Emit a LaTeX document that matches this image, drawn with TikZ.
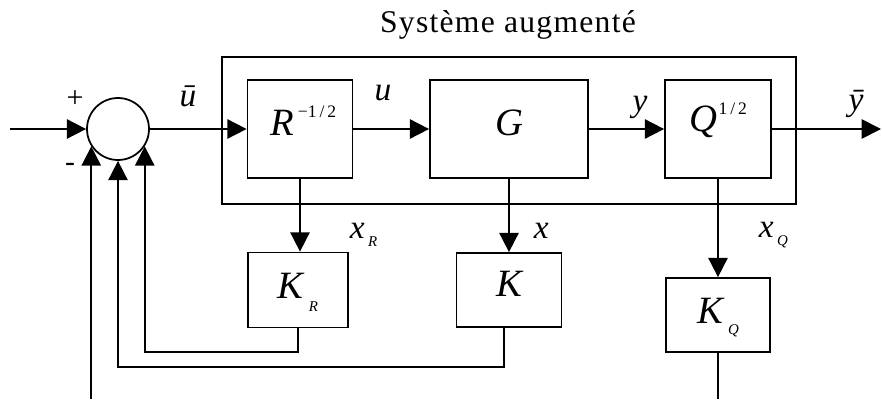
\documentclass[tikz,border=0pt]{standalone}
\usepackage{fontspec}
\setmainfont{Liberation Serif}
\newfontfamily\titlefont[LetterSpace=4]{Liberation Serif}
\usetikzlibrary{positioning}
\usetikzlibrary{calc}
\usetikzlibrary{arrows.meta}

\newcommand{\blkfont}{\fontsize{22}{22}\selectfont\itshape}
\newcommand{\lblfont}{\fontsize{19}{19}\selectfont\itshape}
% small raised / lowered indices
\newcommand{\sps}[2][10pt]{\raisebox{#1}{\fontsize{10}{10}\selectfont\upshape #2}}
\newcommand{\sbs}[2][-5pt]{\hspace{2pt}\raisebox{#1}{\fontsize{8.5}{8.5}\selectfont\itshape #2}}

\tikzset{
  block/.style={draw, line width=1pt, inner sep=0pt, text height=10pt, text depth=3pt, font=\blkfont},
  arr/.style={-{Triangle[length=11pt,width=11pt]}},
  lbl/.style={inner sep=0pt, font=\lblfont}
}

\begin{document}
\begin{tikzpicture}[x=0.02cm, y=-0.02cm, line width=1pt]
    \useasboundingbox (0,0) rectangle (882,399);

    % augmented system
    \node[draw, minimum width=11.48cm, minimum height=2.94cm] (sys) at (509,130.5) {};
    \node[font=\fontsize{18}{18}\titlefont] (title) at (508,25) {Système augmenté};

    \node[circle, draw, minimum size=1.24cm, inner sep=0pt] (sum) at (118,129) {};
    \node[block, minimum width=2.1cm, minimum height=1.96cm] (R) at (300,129) {\hspace*{4pt}R\hspace{2pt}\sps{−1\,/\,2}};
    \node[block, minimum width=3.16cm, minimum height=1.96cm] (G) at (509,129) {G\hspace{19pt}};
    \node[block, minimum width=2.12cm, minimum height=1.96cm, text depth=7pt] (Q) at (718,129) {Q\hspace{1pt}\sps[9.5pt]{1\,/\,2}};

    \node[block, minimum width=2.0cm, minimum height=1.5cm, text depth=0pt] (KR) at (298,290) {K\hspace{1pt}\sbs[-7pt]{R}};
    \node[block, minimum width=2.1cm, minimum height=1.48cm] (K) at (509,290) {K\hspace{13pt}};
    \node[block, minimum width=2.08cm, minimum height=1.48cm, text depth=0pt] (KQ) at (718,315) {K\hspace{1pt}\sbs[-6pt]{Q}};

    \coordinate (in) at (10,129);
    \coordinate (out) at (881,129);
    \coordinate (lowR) at (0,352);
    \coordinate (lowK) at (0,367);
    \coordinate (bot) at (0,399);

    \draw[arr] (in) -- (sum.west);
    \draw[arr] (sum.east) -- (R.west);
    \draw[arr] (R.east) -- (G.west);
    \draw[arr] (G.east) -- (Q.west);
    \draw[arr] (Q.east) -- (out);

    \draw[arr] (R.south) -- (R.south |- KR.north);
    \draw[arr] (G.south) -- (G.south |- K.north);
    \draw[arr] (Q.south) -- (Q.south |- KQ.north);

    % feedback
    \draw[arr] (KR.south) -- (KR.south |- lowR) -| (sum.-33);
    \draw[arr] ([xshift=-0.1cm]K.south) -- ([xshift=-0.1cm]K.south |- lowK) -| (sum.south);
    \draw (KQ.south) -- (KQ.south |- bot);
    \draw[arr] (sum.-147 |- bot) -- (sum.-147);

    % signal names
    \node[lbl] (ubar) at (188,96) {\=u};
    \node[lbl] (ulbl) at (383,93) {u};
    \node[lbl] (ylbl) at (640,107) {y};
    \node[lbl] (ybar) at (856,104) {\=y};
    \node[lbl, anchor=base west] (xR) at (349,238) {x\sbs{R}};
    \node[lbl, anchor=base west] (xK) at (533,238) {x};
    \node[lbl, anchor=base west] (xQ) at (758,237) {x\sbs{Q}};
    \node[font=\fontsize{17}{17}\selectfont] (plus) at (75,99) {+};
    \node[font=\fontsize{17}{17}\selectfont] (minus) at (70,167) {-};
\end{tikzpicture}
\end{document}
